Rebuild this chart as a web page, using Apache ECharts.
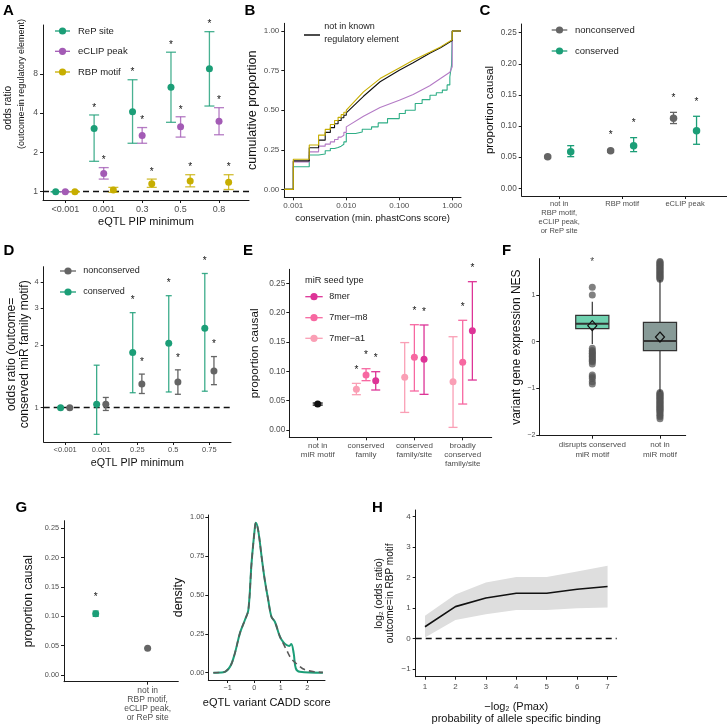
<!DOCTYPE html>
<html><head><meta charset="utf-8">
<script src="https://cdn.jsdelivr.net/npm/echarts@6/dist/echarts.min.js"></script>
<style>html,body{margin:0;padding:0;background:#fff}#c{width:727px;height:728px}</style>
</head><body><div id="c"></div>
<script>
// ================= DATA =================
// Panel A : odds ratio (outcome = in regulatory element) by eQTL PIP minimum
const aCats = ['<0.001', '0.001', '0.3', '0.5', '0.8'];
const aRepOR  = [1, 3.05, 4.1, 6.3, 8.75];
const aRepLo  = [1, 1.71, 2.35, 3.4, 4.53];
const aRepHi  = [1, 3.87, 7.2, 11.7, 16.8];
const aRepSig = [0, 1, 1, 1, 1];
const aClipOR  = [1, 1.38, 2.7, 3.15, 3.46];
const aClipLo  = [1, 1.25, 2.35, 2.62, 2.73];
const aClipHi  = [1, 1.53, 3.1, 3.75, 4.4];
const aClipSig = [0, 1, 1, 1, 1];
const aRbpOR  = [1, 1.03, 1.15, 1.21, 1.18];
const aRbpLo  = [1, 0.99, 1.08, 1.09, 1.04];
const aRbpHi  = [1, 1.08, 1.25, 1.35, 1.35];
const aRbpSig = [0, 0, 1, 1, 1];

// Panel B : cumulative proportion vs conservation (ECDF step points + smooth part)
const bBlackStepX  = [0.001, 0.002, 0.003, 0.004, 0.005, 0.006, 0.007, 0.008, 0.009, 0.010];
const bBlackStepY  = [0.18, 0.263, 0.311, 0.36, 0.39, 0.415, 0.435, 0.452, 0.468, 0.483];
const bBlackX = [0.0211, 0.0434, 0.1, 0.183, 0.376, 0.6, 0.999];
const bBlackY = [0.588, 0.68, 0.752, 0.80, 0.86, 0.895, 0.94];
const bGoldStepX = [0.001, 0.002, 0.003, 0.004, 0.005, 0.006, 0.007, 0.008, 0.009, 0.010];
const bGoldStepY = [0.19, 0.28, 0.343, 0.379, 0.41, 0.435, 0.455, 0.472, 0.487, 0.50];
const bGoldX = [0.0211, 0.0434, 0.1, 0.183, 0.376, 0.6, 0.999];
const bGoldY = [0.616, 0.70, 0.767, 0.815, 0.866, 0.90, 0.945];
const bPurpleStepX = [0.001, 0.002, 0.003, 0.004, 0.005, 0.006, 0.007, 0.008, 0.009, 0.010];
const bPurpleStepY = [0.174, 0.237, 0.273, 0.286, 0.30, 0.315, 0.33, 0.342, 0.36, 0.395];
const bPurpleX = [0.0211, 0.0434, 0.1, 0.183, 0.376, 0.6, 0.9, 0.999];
const bPurpleY = [0.462, 0.517, 0.563, 0.60, 0.655, 0.70, 0.74, 0.775];
const bGreenStepX = [0.001, 0.002, 0.003, 0.004, 0.005, 0.006, 0.007, 0.008, 0.009, 0.010, 0.015, 0.02, 0.03, 0.04, 0.06, 0.1, 0.13, 0.2, 0.27, 0.38, 0.5, 0.65, 0.8, 0.9, 0.97];
const bGreenStepY = [0.143, 0.217, 0.223, 0.244, 0.258, 0.265, 0.273, 0.285, 0.30, 0.353, 0.363, 0.38, 0.395, 0.42, 0.447, 0.479, 0.50, 0.542, 0.567, 0.595, 0.61, 0.627, 0.66, 0.71, 0.785];

// Panel C : proportion causal
const cCats = ['not in\nRBP motif,\neCLIP peak,\nor ReP site', 'RBP motif', 'eCLIP peak'];
const cNonVal = [0.0505, 0.0605, 0.1125];
const cNonLo  = [0.049, 0.058, 0.104];
const cNonHi  = [0.052, 0.062, 0.122];
const cNonSig = [0, 1, 1];
const cConVal = [0.0589, 0.0685, 0.0926];
const cConLo  = [0.0508, 0.0589, 0.0707];
const cConHi  = [0.0685, 0.0814, 0.1157];
const cConSig = [0, 1, 1];

// Panel D : odds ratio (outcome = conserved miR family motif)
const dCats = ['<0.001', '0.001', '0.25', '0.5', '0.75'];
const dConOR = [1, 1.04, 1.84, 2.04, 2.41];
const dConLo = [1, 0.745, 1.18, 1.19, 1.2];
const dConHi = [1, 1.6, 2.86, 3.45, 4.41];
const dConSig = [0, 0, 1, 1, 1];
const dNonOR = [1, 1.04, 1.30, 1.33, 1.5];
const dNonLo = [1, 0.97, 1.17, 1.16, 1.29];
const dNonHi = [1, 1.12, 1.45, 1.52, 1.76];
const dNonSig = [0, 0, 1, 1, 1];

// Panel E : proportion causal by miR seed type
const eCats = ['not in\nmiR motif', 'conserved\nfamily', 'conserved\nfamily/site', 'broadly\nconserved\nfamily/site'];
const eNoneVal = [0.0443], eNoneLo = [0.0425], eNoneHi = [0.046];
const eA1Val = [null, 0.0693, 0.0898, 0.0824];
const eA1Lo  = [null, 0.0602, 0.030, 0.0045];
const eA1Hi  = [null, 0.0795, 0.149, 0.159];
const eA1Sig = [0, 1, 0, 0];
const eM8Val = [null, 0.0938, 0.1239, 0.1153];
const eM8Lo  = [null, 0.0841, 0.0665, 0.0443];
const eM8Hi  = [null, 0.1045, 0.1795, 0.187];
const eM8Sig = [0, 1, 1, 1];
const e8Val = [null, 0.0841, 0.1205, 0.169];
const e8Lo  = [null, 0.0682, 0.0608, 0.0852];
const e8Hi  = [null, 0.0994, 0.179, 0.2528];
const e8Sig = [0, 1, 1, 1];

// Panel F : variant gene expression NES boxplots
const fCats = ['disrupts conserved\nmiR motif', 'not in\nmiR motif'];
const fWhiskLo = [-0.05, -1.07];
const fQ1 = [0.279, -0.193];
const fMed = [0.386, 0.014];
const fQ3 = [0.564, 0.414];
const fWhiskHi = [0.857, 1.32];
const fMean = [0.343, 0.10];
const fSig = [1, 0];
const fStarY = [1.70, null];
const fOut1 = [1.164, 1.0, -0.143, -0.19, -0.214, -0.25, -0.264, -0.30, -0.321, -0.35, -0.379, -0.41, -0.429, -0.479, -0.714, -0.75, -0.786, -0.857, -0.907];
const fOut2 = [1.34, 1.36, 1.38, 1.40, 1.42, 1.44, 1.46, 1.48, 1.50, 1.52, 1.54, 1.56, 1.58, 1.60, 1.62, 1.64, 1.66, 1.68, 1.70, 1.72,
               -1.09, -1.11, -1.13, -1.15, -1.17, -1.19, -1.21, -1.23, -1.25, -1.27, -1.29, -1.31, -1.33, -1.35, -1.37, -1.39, -1.41, -1.43, -1.45, -1.47, -1.49, -1.52, -1.55, -1.58, -1.61, -1.65];

// Panel G (left) : proportion causal
const gCats = ['eCLIP peak,\nconserved miR site,\nor ReP site', 'not in\nRBP motif,\neCLIP peak,\nor ReP site'];
const gVal = [0.1045, 0.0455];
const gLo  = [0.100, 0.0445];
const gHi  = [0.109, 0.0465];
const gSig = [1, 0];
// Panel G (right) : density of eQTL variant CADD score
const gGreenX = [-1.54, -1.16, -0.91, -0.73, -0.54, -0.35, -0.22, -0.10, 0.03, 0.06, 0.15, 0.28, 0.40, 0.53, 0.65, 0.78, 0.97, 1.09, 1.22, 1.32, 1.40, 1.49, 1.57, 1.72, 2.59];
const gGreenY = [0, 0.003, 0.039, 0.124, 0.253, 0.339, 0.403, 0.704, 0.94, 0.965, 0.918, 0.746, 0.596, 0.468, 0.36, 0.328, 0.232, 0.199, 0.178, 0.172, 0.185, 0.124, 0.028, 0.006, 0];
const gGrayX = [-1.54, -1.16, -0.91, -0.73, -0.54, -0.35, -0.22, -0.10, 0.03, 0.06, 0.15, 0.28, 0.40, 0.53, 0.65, 0.78, 0.97, 1.09, 1.22, 1.40, 1.65, 1.90, 2.28, 2.59];
const gGrayY = [0, 0.003, 0.039, 0.124, 0.253, 0.339, 0.403, 0.704, 0.94, 0.965, 0.918, 0.746, 0.596, 0.468, 0.36, 0.328, 0.232, 0.19, 0.146, 0.09, 0.05, 0.02, 0.006, 0.002];

// Panel H : log2 odds ratio vs -log2(Pmax)
const hX  = [1, 2, 3, 4, 5, 6, 7];
const hEst = [0.39, 1.05, 1.33, 1.49, 1.49, 1.62, 1.71];
const hLo  = [0.04, 0.61, 0.80, 0.94, 0.94, 1.00, 1.02];
const hHi  = [0.75, 1.45, 1.84, 2.02, 2.02, 2.20, 2.39];

// ================= STYLE =================
const FONT = '"Liberation Sans", Arial, sans-serif';
const TICK = '#4d4d4d', AXIS = '#1a1a1a', TXT = '#111';
const GREEN = '#1b9e77', PURPLE = '#a35bb5', GOLD = '#c7ae00', GRAY = '#656565';
const P8 = '#dd3497', PM8 = '#f768a1', PA1 = '#fa9fb5';

function baseAxis(grid, min, max, ticks, fmt, fs, margin, lh) {
  return {
    type: 'value', gridIndex: grid, min: min, max: max,
    axisLine: { show: true, onZero: false, lineStyle: { color: AXIS, width: 1 } },
    axisTick: { show: true, length: 3, customValues: ticks, lineStyle: { color: AXIS, width: 1 } },
    axisLabel: { show: true, customValues: ticks, formatter: fmt, color: TICK, fontSize: fs, fontFamily: FONT, margin: margin, lineHeight: lh || fs * 1.15 },
    splitLine: { show: false }
  };
}
function catAxis(grid, min, max, labels, fs, margin, lh) {
  const vals = labels.map((_, i) => i + 1);
  return baseAxis(grid, min, max, vals, v => labels[Math.round(v) - 1] || '', fs, margin, lh);
}
function nm(ax, name, gap, fs, lh, extra) {
  ax.name = name; ax.nameLocation = 'middle'; ax.nameGap = gap;
  ax.nameTextStyle = Object.assign({ fontSize: fs, fontFamily: FONT, color: TXT, lineHeight: lh || fs * 1.2 }, extra || {});
  return ax;
}
const f2 = v => v.toFixed(2);
const minus = v => (v < 0 ? '\u2212' + Math.abs(v) : String(v));

function errBar(capHalf, starOff, color, opacity, lw) {
  return function (params, api) {
    const x = api.value(0), lo = api.value(1), hi = api.value(2), sig = api.value(3);
    const pl = api.coord([x, lo]), ph = api.coord([x, hi]);
    const st = { stroke: color, lineWidth: lw, opacity: opacity };
    const ch = [
      { type: 'line', shape: { x1: pl[0], y1: pl[1], x2: ph[0], y2: ph[1] }, style: st },
      { type: 'line', shape: { x1: pl[0] - capHalf, y1: pl[1], x2: pl[0] + capHalf, y2: pl[1] }, style: st },
      { type: 'line', shape: { x1: ph[0] - capHalf, y1: ph[1], x2: ph[0] + capHalf, y2: ph[1] }, style: st }
    ];
    if (sig) ch.push({ type: 'text', x: ph[0], y: ph[1] - starOff, style: { text: '*', fill: '#111', font: '10px "Liberation Sans"', align: 'center', verticalAlign: 'middle' } });
    return { type: 'group', children: ch };
  };
}

const series = [];
function dotGroup(ax, vals, lo, hi, sig, off, color, tf, capHalf, starOff, size, barOpacity) {
  const t = tf || (v => v);
  const errData = [], ptData = [];
  vals.forEach((v, i) => {
    if (v === null || v === undefined) return;
    errData.push([i + 1 + off, t(lo[i]), t(hi[i]), sig[i]]);
    ptData.push([i + 1 + off, t(v)]);
  });
  series.push({ type: 'custom', xAxisIndex: ax, yAxisIndex: ax, renderItem: errBar(capHalf, starOff, color, barOpacity, 1.3), data: errData, z: 3, clip: false, silent: true });
  const s = { type: 'scatter', xAxisIndex: ax, yAxisIndex: ax, symbol: 'circle', symbolSize: size, itemStyle: { color: color, opacity: 1 }, data: ptData, z: 4, silent: true };
  series.push(s);
  return s;
}
const dashLine = { silent: true, symbol: ['none', 'none'], label: { show: false }, lineStyle: { color: '#111', type: [6, 4], width: 1.3 }, data: [{ yAxis: 0 }] , z: 1};

// ---------- axes ----------
const xAxes = [], yAxes = [];
// A (0)
xAxes.push(nm(catAxis(0, 0.42, 5.78, aCats, 9, 4), 'eQTL PIP minimum', 15, 11));
yAxes.push(baseAxis(0, -0.21, 4.24, [0, 1, 2, 3], v => String(Math.round(Math.pow(2, v))), 8.5, 5));
// B (1)
xAxes.push(nm(baseAxis(1, -3.17, 0.165, [-3, -2, -1, 0], v => Math.pow(10, v).toFixed(3), 8, 4), 'conservation (min. phastCons score)', 15, 9.5));
yAxes.push(nm(baseAxis(1, -0.05, 1.049, [0, 0.25, 0.5, 0.75, 1], f2, 8, 5), 'cumulative proportion', 22, 12.5));
// C (2)
xAxes.push(catAxis(2, 0.404, 3.667, cCats, 7.5, 4, 8.7));
yAxes.push(nm(baseAxis(2, -0.0124, 0.264, [0, 0.05, 0.10, 0.15, 0.20, 0.25], f2, 8.2, 5), 'proportion causal', 24, 11.5));
// D (3)
xAxes.push(nm(catAxis(3, 0.404, 5.6, dCats, 7.5, 4), 'eQTL PIP minimum', 15, 10.7));
yAxes.push(nm(baseAxis(3, -0.547, 2.249, [0, 1, Math.log2(3), 2], v => String(Math.round(Math.pow(2, v))), 7.5, 5), 'odds ratio (outcome=\nconserved miR family motif)', 9.5, 12, 12.4));
// E (4)
xAxes.push(catAxis(4, 0.412, 4.6, eCats, 8, 4, 9));
yAxes.push(nm(baseAxis(4, -0.0124, 0.2739, [0, 0.05, 0.10, 0.15, 0.20, 0.25], f2, 8.3, 4), 'proportion causal', 28, 11.7));
// F (5)
xAxes.push(catAxis(5, 0.217, 2.38, fCats, 8, 4, 10));
yAxes.push(nm(baseAxis(5, -2.014, 1.78, [-2, -1, 0, 1], minus, 7, 4), 'variant gene expression NES', 15, 12));
// G1 (6)
xAxes.push(catAxis(6, 0.39, 2.59, gCats, 8.5, 4, 9.2));
yAxes.push(nm(baseAxis(6, -0.0114, 0.263, [0, 0.05, 0.10, 0.15, 0.20, 0.25], f2, 7.3, 5), 'proportion causal', 28, 12));
// G2 (7)
xAxes.push(nm(baseAxis(7, -1.73, 2.67, [-1, 0, 1, 2], minus, 7.3, 4), 'eQTL variant CADD score', 16, 11));
yAxes.push(nm(baseAxis(7, -0.047, 1.015, [0, 0.25, 0.5, 0.75, 1], f2, 7.3, 4), 'density', 18, 12.5));
// H (8)
xAxes.push(nm(baseAxis(8, 0.695, 7.3, hX, v => String(v), 8, 5), '\u2212log\u2082 (Pmax)\nprobability of allele specific binding', 24, 11, 12));
yAxes.push(nm(baseAxis(8, -1.25, 4.22, [-1, 0, 1, 2, 3, 4], minus, 8, 5), 'log\u2082 (odds ratio)\noutcome=in RBP motif', 20, 10, 11));

// ---------- series ----------
// A
const log2 = v => Math.log2(v);
const aS = dotGroup(0, aRepOR, aRepLo, aRepHi, aRepSig, -0.25, GREEN, log2, 5, 7, 7, 0.8);
aS.markLine = dashLine;
dotGroup(0, aClipOR, aClipLo, aClipHi, aClipSig, 0, PURPLE, log2, 5, 7, 7, 0.8);
dotGroup(0, aRbpOR, aRbpLo, aRbpHi, aRbpSig, 0.25, GOLD, log2, 5, 7, 7, 0.8);

// B
function ecdfPath(stepX, stepY, smX, smY) {
  const pts = [[-3.17, 0]];
  let prev = 0;
  stepX.forEach((x, i) => { pts.push([Math.log10(x), prev]); pts.push([Math.log10(x), stepY[i]]); prev = stepY[i]; });
  smX.forEach((x, i) => { pts.push([Math.log10(x), smY[i]]); prev = smY[i]; });
  pts.push([0, prev]); pts.push([0, 1]); pts.push([0.165, 1]);
  return pts;
}
const bLine = (data, color, z) => ({ type: 'line', xAxisIndex: 1, yAxisIndex: 1, data: data, showSymbol: false, symbol: 'none', lineStyle: { color: color, width: 1.1 }, z: z, silent: true });
series.push(bLine(ecdfPath(bGreenStepX, bGreenStepY, [], []), '#2fae86', 2));
series.push(bLine(ecdfPath(bPurpleStepX, bPurpleStepY, bPurpleX, bPurpleY), '#b47bc6', 3));
series.push(bLine(ecdfPath(bBlackStepX, bBlackStepY, bBlackX, bBlackY), '#111111', 4));
series.push(bLine(ecdfPath(bGoldStepX, bGoldStepY, bGoldX, bGoldY), GOLD, 5));

// C
dotGroup(2, cNonVal, cNonLo, cNonHi, cNonSig, -0.183, GRAY, null, 3.5, 14, 7.5, 1);
dotGroup(2, cConVal, cConLo, cConHi, cConSig, 0.183, GREEN, null, 3.5, 14, 7.5, 1);

// D
const dS = dotGroup(3, dConOR, dConLo, dConHi, dConSig, -0.127, GREEN, log2, 3, 12, 7, 0.85);
dS.markLine = dashLine;
dotGroup(3, dNonOR, dNonLo, dNonHi, dNonSig, 0.127, GRAY, log2, 3, 12, 7, 1);

// E
dotGroup(4, eNoneVal, eNoneLo, eNoneHi, [0], 0, '#111111', null, 5, 13, 7, 1);
dotGroup(4, eA1Val, eA1Lo, eA1Hi, eA1Sig, -0.2, PA1, null, 4.5, 13, 7, 1);
dotGroup(4, eM8Val, eM8Lo, eM8Hi, eM8Sig, 0, PM8, null, 4.5, 13, 7, 1);
dotGroup(4, e8Val, e8Lo, e8Hi, e8Sig, 0.2, P8, null, 4.5, 13, 7, 1);

// F
const fFill = ['#6fd1af', '#879a97'];
series.push({
  type: 'custom', xAxisIndex: 5, yAxisIndex: 5, silent: true, z: 3,
  data: fCats.map((c, i) => [i + 1, fWhiskLo[i], fQ1[i], fMed[i], fQ3[i], fWhiskHi[i]]),
  renderItem: function (params, api) {
    const x = api.value(0);
    const pWl = api.coord([x, api.value(1)]), pQ1 = api.coord([x, api.value(2)]), pMd = api.coord([x, api.value(3)]), pQ3 = api.coord([x, api.value(4)]), pWh = api.coord([x, api.value(5)]);
    const xl = api.coord([x - 0.245, 0])[0], xr = api.coord([x + 0.245, 0])[0];
    const st = { stroke: '#333', lineWidth: 1.2 };
    return { type: 'group', children: [
      { type: 'line', shape: { x1: pWl[0], y1: pWl[1], x2: pWh[0], y2: pWh[1] }, style: st },
      { type: 'rect', shape: { x: xl, y: pQ3[1], width: xr - xl, height: pQ1[1] - pQ3[1] }, style: { fill: fFill[params.dataIndex], stroke: '#333', lineWidth: 1.2 } },
      { type: 'line', shape: { x1: xl, y1: pMd[1], x2: xr, y2: pMd[1] }, style: { stroke: '#333', lineWidth: 2 } }
    ] };
  }
});
series.push({ type: 'scatter', xAxisIndex: 5, yAxisIndex: 5, silent: true, z: 2, symbolSize: 7, itemStyle: { color: '#555', opacity: 0.75 },
  data: fOut1.map(v => [1, v]).concat(fOut2.map(v => [2, v])) });
series.push({ type: 'scatter', xAxisIndex: 5, yAxisIndex: 5, silent: true, z: 5, symbol: 'diamond', symbolSize: [9, 10],
  itemStyle: { color: 'rgba(0,0,0,0)', borderColor: '#111', borderWidth: 1.2, opacity: 1 }, data: fMean.map((v, i) => [i + 1, v]) });
series.push({ type: 'scatter', xAxisIndex: 5, yAxisIndex: 5, silent: true, z: 5, symbolSize: 0,
  data: fStarY.map((v, i) => (fSig[i] ? [i + 1, v] : null)).filter(d => d),
  label: { show: true, position: 'inside', formatter: '*', fontSize: 10, color: '#111', fontFamily: FONT } });

// G1
dotGroup(6, gVal, gLo, gHi, gSig, 0, GREEN, null, 3, 14, 7, 1);
series[series.length - 1].data = [[1, gVal[0]]];
series.push({ type: 'scatter', xAxisIndex: 6, yAxisIndex: 6, symbolSize: 7, itemStyle: { color: GRAY, opacity: 1 }, data: [[2, gVal[1]]], z: 4, silent: true });
// G2
series.push({ type: 'line', xAxisIndex: 7, yAxisIndex: 7, smooth: 0.35, showSymbol: false, symbol: 'none', silent: true, z: 3,
  data: gGreenX.map((x, i) => [x, gGreenY[i]]), lineStyle: { color: GREEN, width: 2 } });
series.push({ type: 'line', xAxisIndex: 7, yAxisIndex: 7, smooth: 0.35, showSymbol: false, symbol: 'none', silent: true, z: 4,
  data: gGrayX.map((x, i) => [x, gGrayY[i]]), lineStyle: { color: '#5a5a5a', width: 1.6, type: [6, 4] } });

// H
series.push({ type: 'custom', xAxisIndex: 8, yAxisIndex: 8, silent: true, z: 1, data: hX.map((x, i) => [x, hLo[i], hHi[i]]),
  renderItem: function (params, api) {
    if (params.dataIndex !== 0) return null;
    const pts = [];
    hX.forEach((x, i) => pts.push(api.coord([x, hHi[i]])));
    for (let i = hX.length - 1; i >= 0; i--) pts.push(api.coord([hX[i], hLo[i]]));
    return { type: 'polygon', shape: { points: pts }, style: { fill: '#dedede' } };
  } });
series.push({ type: 'line', xAxisIndex: 8, yAxisIndex: 8, showSymbol: false, symbol: 'none', silent: true, z: 3,
  data: hX.map((x, i) => [x, hEst[i]]), lineStyle: { color: '#111', width: 1.6 }, markLine: dashLine });

// ---------- graphic: panel letters, A y-title & legends ----------
const G = [];
function letter(t, x, y) { G.push({ type: 'text', x: x, y: y, style: { text: t, font: 'bold 15px "Liberation Sans"', fill: '#000', verticalAlign: 'middle' } }); }
function vtext(t, x, y, fs) { G.push({ type: 'text', x: x, y: y, rotation: Math.PI / 2, style: { text: t, font: fs + 'px "Liberation Sans"', fill: TXT, align: 'center', verticalAlign: 'middle' } }); }
function legItem(x1, x2, y, color, label, tx, fs) {
  G.push({ type: 'line', shape: { x1: x1, y1: y, x2: x2, y2: y }, style: { stroke: color, lineWidth: 1.3 } });
  G.push({ type: 'circle', shape: { cx: (x1 + x2) / 2, cy: y, r: 3.6 }, style: { fill: color } });
  G.push({ type: 'text', x: tx, y: y, style: { text: label, font: fs + 'px "Liberation Sans"', fill: '#222', verticalAlign: 'middle' } });
}
letter('A', 3, 10.5); letter('B', 244.5, 10.5); letter('C', 479.5, 10.5);
letter('D', 3.5, 251); letter('E', 243, 251); letter('F', 502, 251);
letter('G', 15.5, 508); letter('H', 372, 508);
vtext('odds ratio', 8.5, 108, 10);
vtext('(outcome=in regulatory element)', 22, 84, 9);
legItem(55, 70, 31, GREEN, 'ReP site', 78, 9.5);
legItem(55, 70, 51.3, PURPLE, 'eCLIP peak', 78, 9.5);
legItem(55, 70, 72, GOLD, 'RBP motif', 78, 9.5);
legItem(551.7, 567.3, 30, GRAY, 'nonconserved', 575, 9.5);
legItem(551.7, 567.3, 51, GREEN, 'conserved', 575, 9.5);
legItem(60, 76, 271, GRAY, 'nonconserved', 83.3, 9);
legItem(60, 76, 292, GREEN, 'conserved', 83.3, 9);
G.push({ type: 'text', x: 305, y: 280, style: { text: 'miR seed type', font: '9.2px "Liberation Sans"', fill: '#222', verticalAlign: 'middle' } });
legItem(305.3, 322.7, 296.7, P8, '8mer', 329.3, 9);
legItem(305.3, 322.7, 317.7, PM8, '7mer\u2212m8', 329.3, 9);
legItem(305.3, 322.7, 338.3, PA1, '7mer\u2212a1', 329.3, 9);
G.push({ type: 'line', shape: { x1: 304, y1: 35, x2: 320, y2: 35 }, style: { stroke: '#111', lineWidth: 1.5 } });
G.push({ type: 'text', x: 324.3, y: 26.7, style: { text: 'not in known', font: '9px "Liberation Sans"', fill: '#222', verticalAlign: 'middle' } });
G.push({ type: 'text', x: 324.3, y: 40, style: { text: 'regulatory element', font: '9px "Liberation Sans"', fill: '#222', verticalAlign: 'middle' } });

const grids = [
  [43, 25, 206, 175], [284.3, 23.3, 176.7, 174], [521.7, 24, 205.3, 172],
  [43.7, 266.7, 187.3, 175.3], [289.3, 269.3, 202.4, 168], [539.3, 258.6, 146.4, 177.1],
  [64, 520.7, 114.3, 161], [208.3, 515, 116.7, 165], [415.7, 510, 201, 166.7]
].map(g => ({ left: g[0], top: g[1], width: g[2], height: g[3], containLabel: false, outerBoundsMode: 'none' }));

const chart = echarts.init(document.getElementById('c'), null, { renderer: 'canvas' });
chart.setOption({
  animation: false, backgroundColor: '#fff', textStyle: { fontFamily: FONT },
  grid: grids, xAxis: xAxes, yAxis: yAxes, series: series, graphic: { elements: G }
});
</script></body></html>
